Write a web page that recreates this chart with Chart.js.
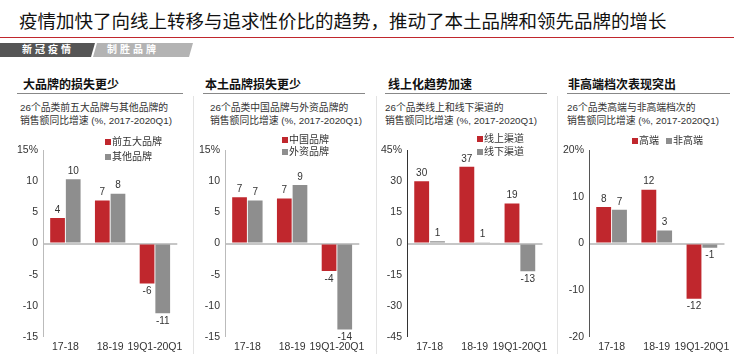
<!DOCTYPE html>
<html>
<head>
<meta charset="utf-8">
<script src="https://cdn.jsdelivr.net/npm/chart.js@4/dist/chart.umd.min.js"></script>
<style>
  html, body { margin: 0; padding: 0; background: #fff; }
  body {
    width: 750px; height: 359px; position: relative; overflow: hidden;
    font-family: "Liberation Sans", "Noto Sans CJK SC", sans-serif; color: #333;
  }
  .abs { position: absolute; white-space: nowrap; }
  .title { left: 19px; top: 9px; font-size: 18.5px; color: #111; line-height: 26px; }
  .redline { left: 0; top: 37px; width: 734px; height: 1px; background: #c0272d; }
  .tab { top: 43px; height: 14px; line-height: 14px; font-size: 10px; font-weight: bold;
         color: #fff; letter-spacing: 3px; }
  .tab1 { left: 0; width: 95px; background: #555; clip-path: polygon(0 0, 95px 0, 91px 14px, 0 14px); }
  .tab2 { left: 93px; width: 100px; background: #b3b3b3; clip-path: polygon(4px 0, 100px 0, 96px 14px, 0 14px); }
  .tab span { position: absolute; top: 0; }
  .ptitle { font-size: 12px; font-weight: bold; color: #111; top: 77px; line-height: 16px; }
  .uline { top: 93px; height: 1px; background: #888; }
  .sub { font-size: 9.8px; line-height: 13px; color: #333; top: 101px; }
  .sep { top: 96px; width: 1px; height: 258px; background: #e3e3e3; }
  .lg { font-size: 10px; line-height: 12px; color: #333; }
  .sw { width: 6px; height: 6px; }
  canvas { position: absolute; }
</style>
</head>
<body>
<div class="abs title">疫情加快了向线上转移与追求性价比的趋势，推动了本土品牌和领先品牌的增长</div>
<div class="abs redline"></div>
<div class="abs tab tab1"><span style="left:22px">新冠疫情</span></div>
<div class="abs tab tab2"><span style="left:14px">制胜品牌</span></div>

<div class="abs ptitle" style="left:23px">大品牌的损失更少</div>
<div class="abs uline" style="left:17px;width:166px"></div>
<div class="abs sub" style="left:20px">26个品类前五大品牌与其他品牌的<br>销售额同比增速 (%, 2017-2020Q1)</div>

<div class="abs ptitle" style="left:205px">本土品牌损失更少</div>
<div class="abs uline" style="left:203px;width:162px"></div>
<div class="abs sub" style="left:210px">26个品类中国品牌与外资品牌的<br>销售额同比增速 (%, 2017-2020Q1)</div>

<div class="abs ptitle" style="left:388px">线上化趋势加速</div>
<div class="abs uline" style="left:385px;width:162px"></div>
<div class="abs sub" style="left:385px">26个品类线上和线下渠道的<br>销售额同比增速 (%, 2017-2020Q1)</div>

<div class="abs ptitle" style="left:568px">非高端档次表现突出</div>
<div class="abs uline" style="left:567px;width:163px"></div>
<div class="abs sub" style="left:567px">26个品类高端与非高端档次的<br>销售额同比增速 (%, 2017-2020Q1)</div>

<div class="abs sep" style="left:193px"></div>
<div class="abs sep" style="left:376px"></div>
<div class="abs sep" style="left:557px"></div>

<canvas id="c1"></canvas>
<canvas id="c2"></canvas>
<canvas id="c3"></canvas>
<canvas id="c4"></canvas>
<div id="legends"></div>

<script>
// Values (percent, year-on-year growth)
const categories = ["17-18", "18-19", "19Q1-20Q1"];

const bigBrands = [4.1, 6.9, -6.4];
const otherBrands = [10.3, 8.0, -11.2];

const chinaBrands = [7.4, 7.2, -4.4];
const foreignBrands = [6.9, 9.4, -13.8];

const onlineChannel = [30.0, 36.9, 19.2];
const offlineChannel = [1.1, 0.6, -13.4];

const premium = [7.8, 11.5, -11.8];
const nonPremium = [7.2, 2.8, -0.9];

const RED = "#c0272d";
const GREY = "#8e8e8e";
const FONT = '"Liberation Sans", "Noto Sans CJK SC", sans-serif';

// small inline value-label plugin (no datalabels plugin available offline)
const valueLabels = {
    id: "valueLabels",
    afterDatasetsDraw(chart) {
        const ctx = chart.ctx;
        ctx.save();
        ctx.font = "10px " + FONT;
        ctx.fillStyle = "#333";
        ctx.textAlign = "center";
        chart.data.datasets.forEach((ds, di) => {
            chart.getDatasetMeta(di).data.forEach((bar, i) => {
                const v = ds.data[i];
                const txt = String(Math.round(v));
                if (v >= 0) {
                    ctx.textBaseline = "bottom";
                    ctx.fillText(txt, bar.x, bar.y - 3);
                } else {
                    ctx.textBaseline = "top";
                    ctx.fillText(txt, bar.x, bar.y + 3);
                }
            });
        });
        ctx.restore();
    },
};

function renderPanel(id, axisX, rightX, series, range, axisColor, legend) {
    const canvas = document.getElementById(id);
    const yw = 40;
    const left = axisX - yw;
    const width = rightX - left + 4;
    canvas.width = width;
    canvas.height = 224;
    canvas.style.left = left + "px";
    canvas.style.top = "135px";
    canvas.style.width = width + "px";
    canvas.style.height = "224px";

    new Chart(canvas.getContext("2d"), {
        type: "bar",
        data: {
            labels: categories,
            datasets: series.map((s) => ({
                label: s.label,
                data: s.data,
                backgroundColor: s.color,
                borderWidth: 0,
                barPercentage: 0.94,
                categoryPercentage: 0.7,
            })),
        },
        options: {
            responsive: false,
            animation: false,
            devicePixelRatio: 1,
            layout: { padding: { top: 15, right: 4, left: 0, bottom: 0 } },
            plugins: { legend: { display: false }, tooltip: { enabled: false } },
            scales: {
                x: {
                    grid: { display: false, drawTicks: false },
                    border: { display: false },
                    ticks: { color: "#333", font: { size: 10.5, family: FONT }, padding: 4, maxRotation: 0, autoSkip: false },
                    afterFit: (s) => { s.height = 22; },
                },
                y: {
                    min: -range.max,
                    max: range.max,
                    ticks: {
                        stepSize: range.step,
                        color: "#333",
                        font: { size: 10.5, family: FONT },
                        padding: 5,
                        callback: (v) => (v === range.max ? v + "%" : v),
                    },
                    grid: {
                        drawTicks: false,
                        color: (c) => (c.tick && c.tick.value === 0 ? "#c6c6c6" : "rgba(0,0,0,0)"),
                        lineWidth: (c) => (c.tick && c.tick.value === 0 ? 2 : 0),
                    },
                    border: { display: true, color: axisColor, width: 1 },
                    afterFit: (s) => { s.width = yw; },
                },
            },
        },
        plugins: [valueLabels],
    });

    // legend as plain html, placed like the reference
    const host = document.getElementById("legends");
    legend.forEach((item, i) => {
        const sw = document.createElement("div");
        sw.className = "abs sw";
        sw.style.left = item.x + "px";
        sw.style.top = (item.y - 3) + "px";
        sw.style.background = series[i].color;
        host.appendChild(sw);
        const tx = document.createElement("div");
        tx.className = "abs lg";
        tx.style.left = (item.x + 7) + "px";
        tx.style.top = (item.y - 6) + "px";
        tx.textContent = series[i].label;
        host.appendChild(tx);
    });
}

renderPanel("c1", 43, 183, [
    { label: "前五大品牌", data: bigBrands, color: RED },
    { label: "其他品牌", data: otherBrands, color: GREY },
], { max: 15, step: 5 }, "#bbbbbb", [{ x: 105, y: 142 }, { x: 105, y: 157 }]);

renderPanel("c2", 225, 365, [
    { label: "中国品牌", data: chinaBrands, color: RED },
    { label: "外资品牌", data: foreignBrands, color: GREY },
], { max: 15, step: 5 }, "#bbbbbb", [{ x: 282, y: 140 }, { x: 282, y: 152 }]);

renderPanel("c3", 407, 548, [
    { label: "线上渠道", data: onlineChannel, color: RED },
    { label: "线下渠道", data: offlineChannel, color: GREY },
], { max: 45, step: 15 }, "#333333", [{ x: 477, y: 139 }, { x: 477, y: 152 }]);

renderPanel("c4", 589, 730, [
    { label: "高端", data: premium, color: RED },
    { label: "非高端", data: nonPremium, color: GREY },
], { max: 20, step: 10 }, "#555555", [{ x: 632, y: 141 }, { x: 666, y: 141 }]);
</script>
</body>
</html>
